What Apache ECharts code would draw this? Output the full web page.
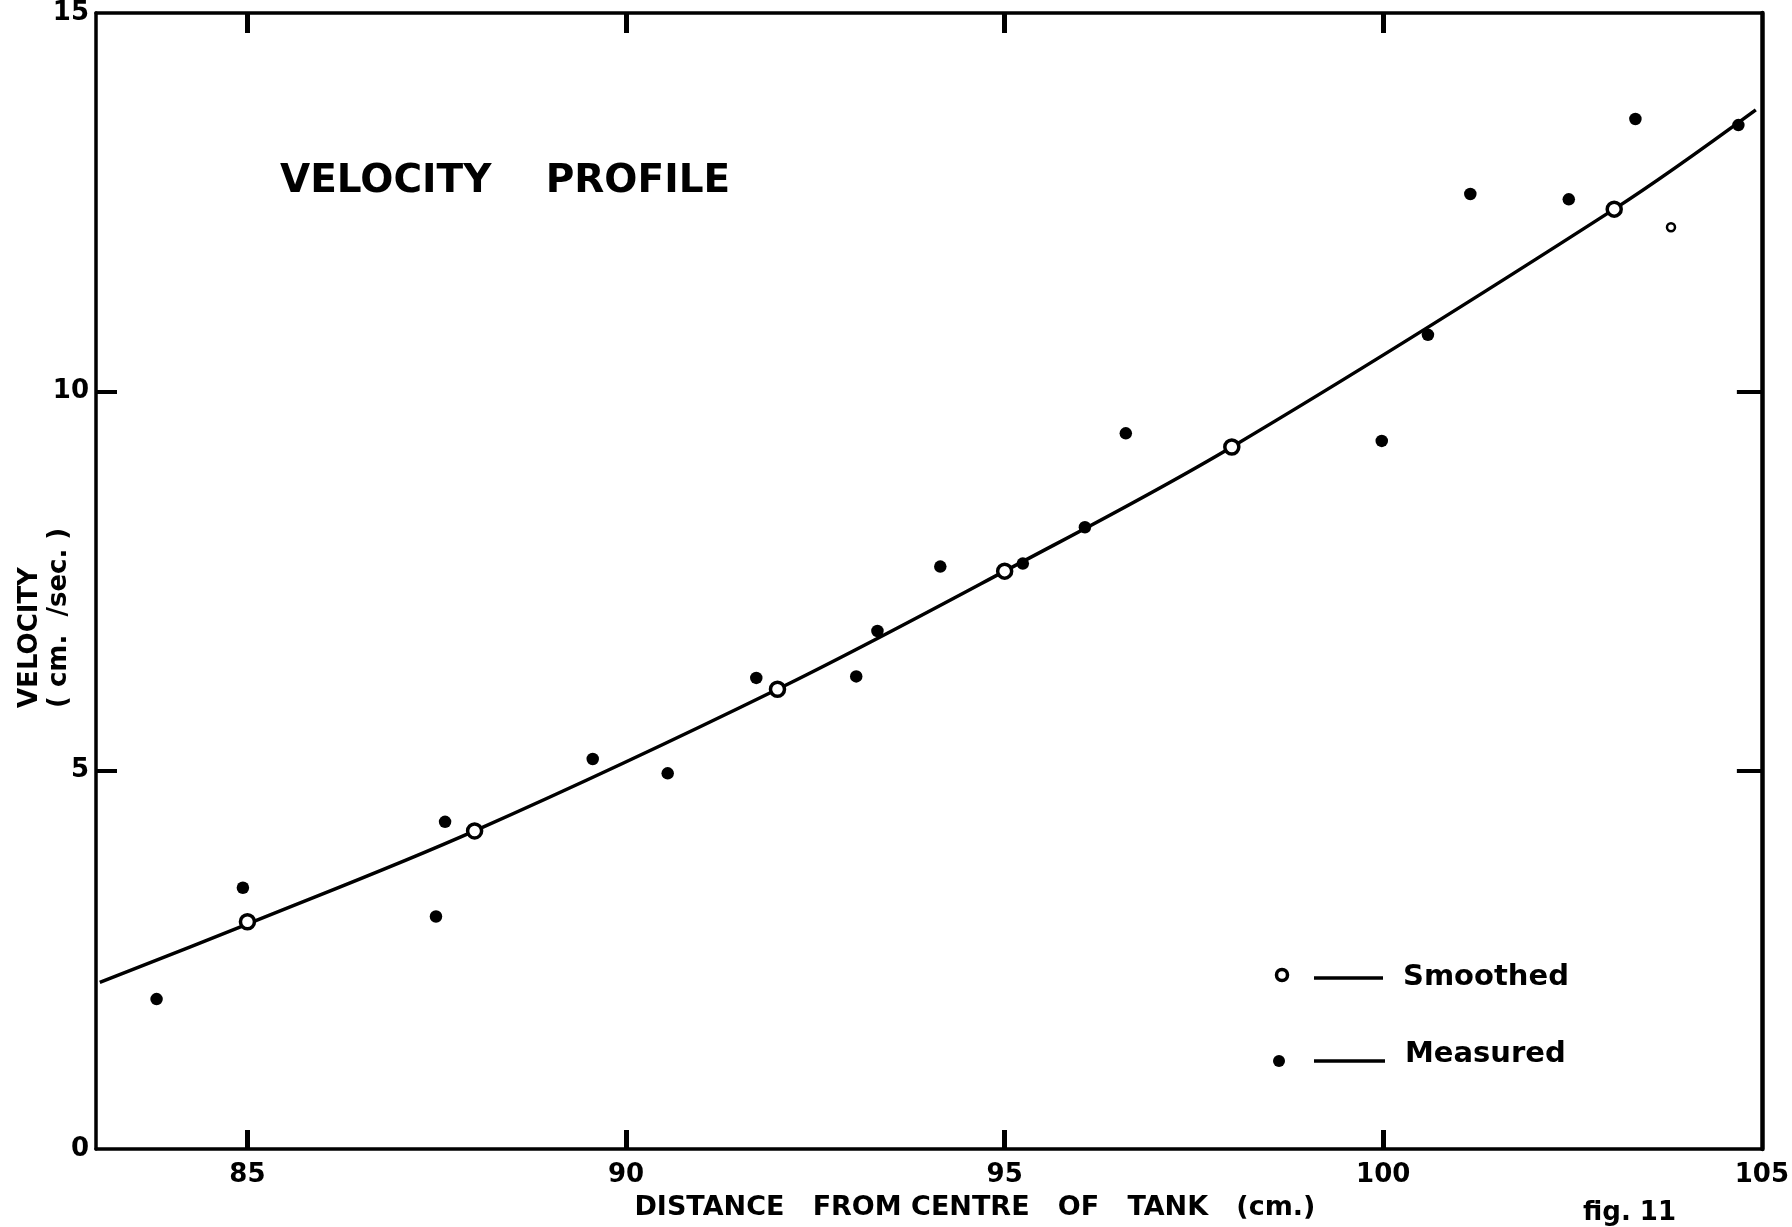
<!DOCTYPE html>
<html>
<head>
<meta charset="utf-8">
<title>Velocity Profile</title>
<script src="https://cdn.jsdelivr.net/npm/echarts@6/dist/echarts.min.js"></script>
<style>
  html, body { margin: 0; padding: 0; background: #fff; }
  #chart { width: 1792px; height: 1227px; }
</style>
</head>
<body>
<div id="chart"></div>
<script>
// ---- data ----
const xTickValues = [85, 90, 95, 100, 105];
const yTickValues = [0, 5, 10, 15];

// smoothed points (open circles)
const smoothedX = [85, 88, 92, 95, 98, 103.05];
const smoothedY = [3.0, 4.2, 6.07, 7.63, 9.27, 12.41];

// smoothed curve (drawn through the smoothed points, ends as in the figure)
const curveX = [83.05, 85, 88, 92, 95, 98, 103.05, 104.92];
const curveY = [2.2, 2.97, 4.2, 6.07, 7.63, 9.27, 12.41, 13.72];

// measured points (filled dots)
const measuredX = [83.8, 84.94, 87.49, 87.61, 89.56, 90.55, 91.72, 93.04, 93.32, 94.15,
                   95.24, 96.06, 96.6, 99.98, 100.59, 101.15, 102.45, 103.33, 104.69];
const measuredY = [1.98, 3.45, 3.07, 4.32, 5.15, 4.96, 6.22, 6.24, 6.84, 7.69,
                   7.73, 8.21, 9.45, 9.35, 10.75, 12.61, 12.54, 13.6, 13.52];

// one measured point drawn as a small ring
const ringX = [103.8];
const ringY = [12.17];

const zip = (a, b) => a.map((v, i) => [v, b[i]]);

const FONT = '"DejaVu Sans", "Liberation Sans", sans-serif';
const BLACK = '#000';

const chart = echarts.init(document.getElementById('chart'), null, { renderer: 'canvas' });

const option = {
  backgroundColor: '#fff',
  animation: false,
  grid: { left: 96, right: 20, top: 13, bottom: 78, containLabel: false },
  xAxis: [
    {
      type: 'value', position: 'bottom', min: 83, max: 105,
      name: 'DISTANCE   FROM CENTRE   OF   TANK   (cm.)',
      nameLocation: 'middle', nameGap: 45,
      nameTextStyle: { fontFamily: FONT, fontWeight: 'bold', fontSize: 27, color: BLACK, padding: [0, 0, 0, 92] },
      axisLine: { show: true, onZero: false, lineStyle: { color: BLACK, width: 3.5 } },
      axisTick: { show: true, inside: true, length: 19, customValues: [85, 90, 95, 100], lineStyle: { color: BLACK, width: 5 } },
      axisLabel: { show: true, customValues: xTickValues, margin: 13, fontFamily: FONT, fontWeight: 'bold', fontSize: 26, color: BLACK },
      splitLine: { show: false }
    },
    {
      type: 'value', position: 'top', min: 83, max: 105,
      axisLine: { show: true, onZero: false, lineStyle: { color: BLACK, width: 3.5 } },
      axisTick: { show: true, inside: true, length: 20, customValues: [85, 90, 95, 100], lineStyle: { color: BLACK, width: 5 } },
      axisLabel: { show: false },
      splitLine: { show: false }
    }
  ],
  yAxis: [
    {
      type: 'value', position: 'left', min: 0, max: 15, interval: 5,
      axisLine: { show: true, onZero: false, lineStyle: { color: BLACK, width: 3.5 } },
      axisTick: { show: true, inside: true, length: 21, customValues: [5, 10], lineStyle: { color: BLACK, width: 4 } },
      axisLabel: { show: true, customValues: yTickValues, margin: 7, fontFamily: FONT, fontWeight: 'bold', fontSize: 26, color: BLACK },
      splitLine: { show: false }
    },
    {
      type: 'value', position: 'right', min: 0, max: 15, interval: 5,
      axisLine: { show: true, onZero: false, lineStyle: { color: BLACK, width: 4.5 } },
      axisTick: { show: true, inside: true, length: 25, customValues: [5, 10], lineStyle: { color: BLACK, width: 4 } },
      axisLabel: { show: false },
      splitLine: { show: false }
    }
  ],
  series: [
    {
      name: 'Smoothed curve', type: 'line', data: zip(curveX, curveY),
      smooth: 0.35, showSymbol: false, symbol: 'none',
      lineStyle: { color: BLACK, width: 3.5 }, z: 2, silent: true
    },
    {
      name: 'Smoothed', type: 'scatter', data: zip(smoothedX, smoothedY),
      symbol: 'circle', symbolSize: 14,
      itemStyle: { color: '#fff', borderColor: BLACK, borderWidth: 3.5, opacity: 1 }, z: 4
    },
    {
      name: 'Measured', type: 'scatter', data: zip(measuredX, measuredY),
      symbol: 'circle', symbolSize: 12.5,
      itemStyle: { color: BLACK, opacity: 1 }, z: 5
    },
    {
      name: 'Measured (ring)', type: 'scatter', data: zip(ringX, ringY),
      symbol: 'circle', symbolSize: 8,
      itemStyle: { color: '#fff', borderColor: BLACK, borderWidth: 2.5, opacity: 1 }, z: 5
    }
  ],
  graphic: [
    { type: 'text', left: 280, top: 162,
      style: { text: 'VELOCITY    PROFILE', font: 'bold 39px ' + FONT, fill: BLACK } },
    { type: 'text', x: 16, y: 708, rotation: Math.PI / 2,
      style: { text: 'VELOCITY\n( cm.  /sec. )', font: 'bold 26px ' + FONT, fill: BLACK,
               lineHeight: 29, textAlign: 'left', textVerticalAlign: 'top' } },
    { type: 'text', left: 1583, top: 1200,
      style: { text: 'fig. 11', font: 'bold 26px ' + FONT, fill: BLACK } },
    // legend
    { type: 'circle', shape: { cx: 1282, cy: 975, r: 5.5 }, style: { fill: '#fff', stroke: BLACK, lineWidth: 3.5 } },
    { type: 'line', shape: { x1: 1314, y1: 978, x2: 1383, y2: 978 }, style: { stroke: BLACK, lineWidth: 3.5 } },
    { type: 'text', x: 1403, y: 977,
      style: { text: 'Smoothed', font: 'bold 29px ' + FONT, fill: BLACK, textVerticalAlign: 'middle' } },
    { type: 'circle', shape: { cx: 1279, cy: 1061, r: 6 }, style: { fill: BLACK } },
    { type: 'line', shape: { x1: 1314, y1: 1061, x2: 1385, y2: 1061 }, style: { stroke: BLACK, lineWidth: 3.5 } },
    { type: 'text', x: 1405, y: 1054,
      style: { text: 'Measured', font: 'bold 29px ' + FONT, fill: BLACK, textVerticalAlign: 'middle' } }
  ]
};

chart.setOption(option);
</script>
</body>
</html>
